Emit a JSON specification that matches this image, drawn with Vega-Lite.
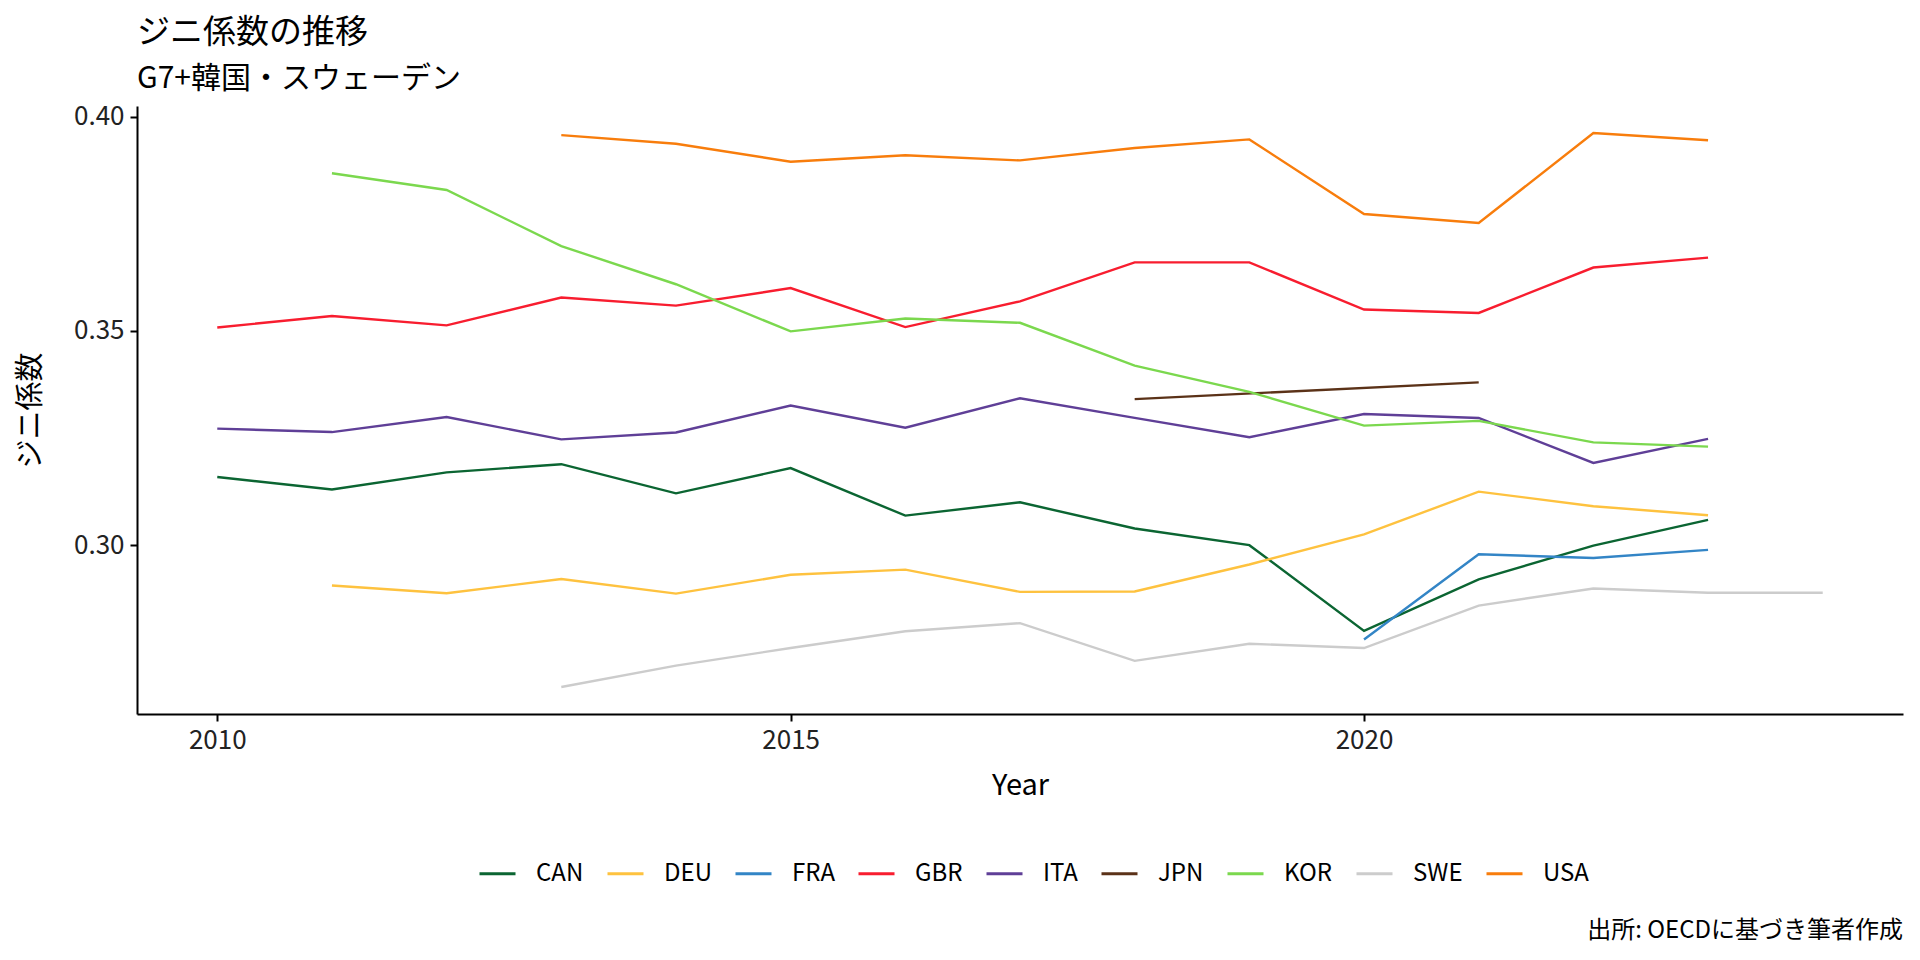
{
  "$schema": "https://vega.github.io/schema/vega-lite/v6.json",
  "autosize": {"type": "none"},
  "width": 1766,
  "height": 608,
  "padding": {"left": 137, "top": 106, "right": 17, "bottom": 246},
  "title": {
    "text": "ジニ係数の推移",
    "subtitle": "G7+韓国・スウェーデン",
    "anchor": "start",
    "frame": "group",
    "fontSize": 33,
    "fontWeight": "normal",
    "subtitleFontSize": 30,
    "subtitlePadding": 14,
    "offset": 10,
    "color": "black",
    "subtitleColor": "black",
    "font": "Noto Sans CJK JP",
    "subtitleFont": "Noto Sans CJK JP"
  },
  "layer": [
    {
      "data": {
        "values": [
          {"country": "CAN", "year": 2010, "gini": 0.3159},
          {"country": "CAN", "year": 2011, "gini": 0.3130},
          {"country": "CAN", "year": 2012, "gini": 0.3170},
          {"country": "CAN", "year": 2013, "gini": 0.3189},
          {"country": "CAN", "year": 2014, "gini": 0.3121},
          {"country": "CAN", "year": 2015, "gini": 0.3180},
          {"country": "CAN", "year": 2016, "gini": 0.3069},
          {"country": "CAN", "year": 2017, "gini": 0.3100},
          {"country": "CAN", "year": 2018, "gini": 0.3039},
          {"country": "CAN", "year": 2019, "gini": 0.3000},
          {"country": "CAN", "year": 2020, "gini": 0.2800},
          {"country": "CAN", "year": 2021, "gini": 0.2920},
          {"country": "CAN", "year": 2022, "gini": 0.2999},
          {"country": "CAN", "year": 2023, "gini": 0.3059},
          {"country": "DEU", "year": 2011, "gini": 0.2906},
          {"country": "DEU", "year": 2012, "gini": 0.2888},
          {"country": "DEU", "year": 2013, "gini": 0.2921},
          {"country": "DEU", "year": 2014, "gini": 0.2887},
          {"country": "DEU", "year": 2015, "gini": 0.2931},
          {"country": "DEU", "year": 2016, "gini": 0.2943},
          {"country": "DEU", "year": 2017, "gini": 0.2891},
          {"country": "DEU", "year": 2018, "gini": 0.2892},
          {"country": "DEU", "year": 2019, "gini": 0.2955},
          {"country": "DEU", "year": 2020, "gini": 0.3025},
          {"country": "DEU", "year": 2021, "gini": 0.3125},
          {"country": "DEU", "year": 2022, "gini": 0.3091},
          {"country": "DEU", "year": 2023, "gini": 0.3070},
          {"country": "FRA", "year": 2020, "gini": 0.2780},
          {"country": "FRA", "year": 2021, "gini": 0.2979},
          {"country": "FRA", "year": 2022, "gini": 0.2970},
          {"country": "FRA", "year": 2023, "gini": 0.2989},
          {"country": "GBR", "year": 2010, "gini": 0.3508},
          {"country": "GBR", "year": 2011, "gini": 0.3535},
          {"country": "GBR", "year": 2012, "gini": 0.3513},
          {"country": "GBR", "year": 2013, "gini": 0.3578},
          {"country": "GBR", "year": 2014, "gini": 0.3559},
          {"country": "GBR", "year": 2015, "gini": 0.3600},
          {"country": "GBR", "year": 2016, "gini": 0.3509},
          {"country": "GBR", "year": 2017, "gini": 0.3569},
          {"country": "GBR", "year": 2018, "gini": 0.3660},
          {"country": "GBR", "year": 2019, "gini": 0.3660},
          {"country": "GBR", "year": 2020, "gini": 0.3550},
          {"country": "GBR", "year": 2021, "gini": 0.3542},
          {"country": "GBR", "year": 2022, "gini": 0.3648},
          {"country": "GBR", "year": 2023, "gini": 0.3671},
          {"country": "ITA", "year": 2010, "gini": 0.3272},
          {"country": "ITA", "year": 2011, "gini": 0.3264},
          {"country": "ITA", "year": 2012, "gini": 0.3299},
          {"country": "ITA", "year": 2013, "gini": 0.3247},
          {"country": "ITA", "year": 2014, "gini": 0.3263},
          {"country": "ITA", "year": 2015, "gini": 0.3326},
          {"country": "ITA", "year": 2016, "gini": 0.3274},
          {"country": "ITA", "year": 2017, "gini": 0.3343},
          {"country": "ITA", "year": 2018, "gini": 0.3297},
          {"country": "ITA", "year": 2019, "gini": 0.3252},
          {"country": "ITA", "year": 2020, "gini": 0.3306},
          {"country": "ITA", "year": 2021, "gini": 0.3297},
          {"country": "ITA", "year": 2022, "gini": 0.3192},
          {"country": "ITA", "year": 2023, "gini": 0.3248},
          {"country": "JPN", "year": 2018, "gini": 0.3341},
          {"country": "JPN", "year": 2021, "gini": 0.3380},
          {"country": "KOR", "year": 2011, "gini": 0.3868},
          {"country": "KOR", "year": 2012, "gini": 0.3829},
          {"country": "KOR", "year": 2013, "gini": 0.3698},
          {"country": "KOR", "year": 2014, "gini": 0.3609},
          {"country": "KOR", "year": 2015, "gini": 0.3499},
          {"country": "KOR", "year": 2016, "gini": 0.3529},
          {"country": "KOR", "year": 2017, "gini": 0.3519},
          {"country": "KOR", "year": 2018, "gini": 0.3419},
          {"country": "KOR", "year": 2019, "gini": 0.3358},
          {"country": "KOR", "year": 2020, "gini": 0.3279},
          {"country": "KOR", "year": 2021, "gini": 0.3290},
          {"country": "KOR", "year": 2022, "gini": 0.3240},
          {"country": "KOR", "year": 2023, "gini": 0.3230},
          {"country": "SWE", "year": 2013, "gini": 0.2669},
          {"country": "SWE", "year": 2014, "gini": 0.2719},
          {"country": "SWE", "year": 2015, "gini": 0.2760},
          {"country": "SWE", "year": 2016, "gini": 0.2799},
          {"country": "SWE", "year": 2017, "gini": 0.2818},
          {"country": "SWE", "year": 2018, "gini": 0.2730},
          {"country": "SWE", "year": 2019, "gini": 0.2770},
          {"country": "SWE", "year": 2020, "gini": 0.2760},
          {"country": "SWE", "year": 2021, "gini": 0.2859},
          {"country": "SWE", "year": 2022, "gini": 0.2899},
          {"country": "SWE", "year": 2023, "gini": 0.2889},
          {"country": "SWE", "year": 2024, "gini": 0.2889},
          {"country": "USA", "year": 2013, "gini": 0.3957},
          {"country": "USA", "year": 2014, "gini": 0.3937},
          {"country": "USA", "year": 2015, "gini": 0.3895},
          {"country": "USA", "year": 2016, "gini": 0.3910},
          {"country": "USA", "year": 2017, "gini": 0.3898},
          {"country": "USA", "year": 2018, "gini": 0.3927},
          {"country": "USA", "year": 2019, "gini": 0.3947},
          {"country": "USA", "year": 2020, "gini": 0.3773},
          {"country": "USA", "year": 2021, "gini": 0.3752},
          {"country": "USA", "year": 2022, "gini": 0.3962},
          {"country": "USA", "year": 2023, "gini": 0.3945}
        ]
      },
      "mark": {"type": "line", "strokeWidth": 2.4},
      "encoding": {
        "x": {
          "field": "year",
          "type": "quantitative",
          "title": "Year",
          "scale": {"domain": [2009.3, 2024.7], "nice": false, "zero": false},
          "axis": {"values": [2010, 2015, 2020], "format": "d", "titlePadding": 18}
        },
        "y": {
          "field": "gini",
          "type": "quantitative",
          "title": "ジニ係数",
          "scale": {"domain": [0.2606, 0.4025], "nice": false, "zero": false},
          "axis": {"values": [0.30, 0.35, 0.40], "format": ".2f", "titlePadding": 28}
        },
        "color": {
          "field": "country",
          "type": "nominal",
          "scale": {
            "domain": ["CAN", "DEU", "FRA", "GBR", "ITA", "JPN", "KOR", "SWE", "USA"],
            "range": ["#0B6532", "#FEC23F", "#3385C6", "#F81D2F", "#5F3F97", "#5B3218", "#7BD84E", "#CCCCCC", "#F87D0C"]
          },
          "legend": {
            "title": null,
            "orient": "none",
            "direction": "horizontal",
            "columns": 9,
            "legendX": 341,
            "legendY": 748,
            "padding": 0,
            "symbolType": "stroke",
            "symbolSize": 1296,
            "symbolStrokeWidth": 3,
            "labelFontSize": 24,
            "labelOffset": 19,
            "columnPadding": 17,
            "labelFont": "Noto Sans CJK JP",
            "labelColor": "black"
          }
        }
      }
    },
    {
      "data": {"values": [{"caption": "出所: OECDに基づき筆者作成"}]},
      "mark": {
        "type": "text",
        "align": "right",
        "baseline": "middle",
        "dy": 217,
        "fontSize": 24,
        "font": "Noto Sans CJK JP",
        "color": "black"
      },
      "encoding": {
        "x": {"value": "width"},
        "y": {"value": "height"},
        "text": {"field": "caption"}
      }
    }
  ],
  "config": {
    "view": {"stroke": null},
    "font": "Noto Sans CJK JP",
    "axis": {
      "grid": false,
      "domainColor": "black",
      "domainWidth": 2,
      "tickColor": "black",
      "tickWidth": 2,
      "tickSize": 7,
      "labelPadding": 6,
      "labelFontSize": 26,
      "labelColor": "#222222",
      "labelFont": "Noto Sans CJK JP",
      "titleFontSize": 29,
      "titleFontWeight": "normal",
      "titleColor": "black",
      "titleFont": "Noto Sans CJK JP"
    }
  }
}
